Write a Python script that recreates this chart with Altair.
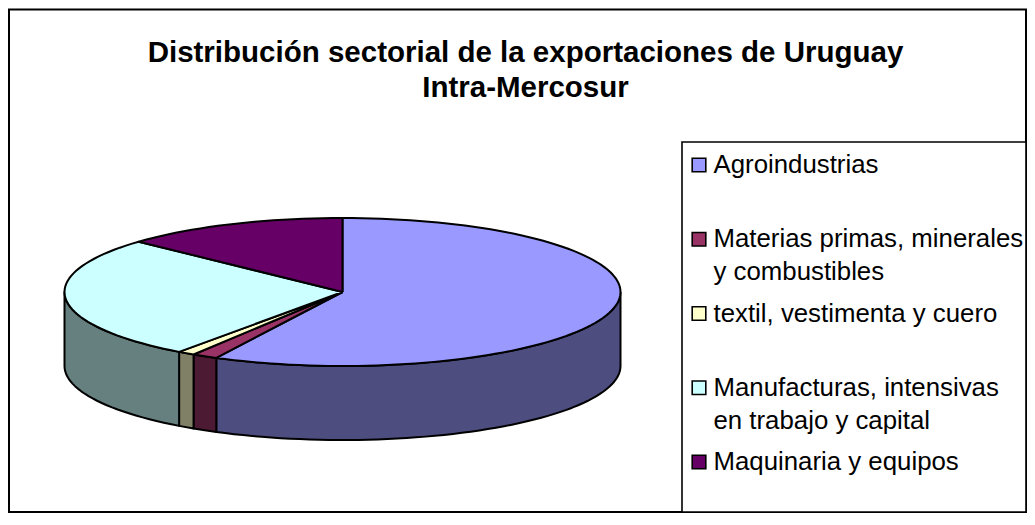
import math
import altair as alt
import pandas as pd

TITLE = ["Distribución sectorial de la exportaciones de Uruguay", "Intra-Mercosur"]
SECTORS = ["Agroindustrias", "Materias primas, minerales y combustibles",
           "textil, vestimenta y cuero", "Manufacturas, intensivas en trabajo y capital",
           "Maquinaria y equipos"]
LINE1 = ["Agroindustrias", "Materias primas, minerales", "textil, vestimenta y cuero",
         "Manufacturas, intensivas", "Maquinaria y equipos"]
LINE2 = ["", "y combustibles", "", "en trabajo y capital", ""]
SHARES = [57.5, 1.5, 1.0, 26.9, 13.1]
TOP_COLORS = ["#9999FF", "#993366", "#FFFFCC", "#CCFFFF", "#660066"]
SIDE_COLORS = ["#4D4D80", "#4D1A33", "#808066", "#668080", "#330033"]
DEPTH = 1.0  # wall height in units of the ellipse's vertical radius


def arc(a0, a1):
    n = max(2, int(abs(a1 - a0) / 2) + 1)
    return [a0 + (a1 - a0) * i / (n - 1) for i in range(n)]


top_rows, side_rows = [], []
start = 0.0
for name, share in zip(SECTORS, SHARES):
    end = start + share * 3.6
    pts = [(0.0, 0.0)] + [(math.sin(math.radians(a)), math.cos(math.radians(a))) for a in arc(start, end)] + [(0.0, 0.0)]
    for i, (x, y) in enumerate(pts):
        top_rows.append({"sector": name, "i": i, "x": x, "y": y})
    lo, hi = max(start, 90.0), min(end, 270.0)
    if lo < hi:
        angles = arc(lo, hi)
        upper = [(math.sin(math.radians(a)), math.cos(math.radians(a))) for a in angles]
        lower = [(x, y - DEPTH) for x, y in reversed(upper)]
        for i, (x, y) in enumerate(upper + lower + upper[:1]):
            side_rows.append({"sector": name, "i": i, "x": x, "y": y})
    start = end

top_df = pd.DataFrame(top_rows)
side_df = pd.DataFrame(side_rows)
legend_df = pd.DataFrame({"sector": SECTORS, "l1": LINE1, "l2": LINE2})
one = pd.DataFrame({"a": [0]})

x_pie = alt.X("x:Q", axis=None, scale=alt.Scale(domain=[-1, 1], range=[56.5, 612.5], nice=False, zero=False))
y_pie = alt.Y("y:Q", axis=None, scale=alt.Scale(domain=[-1, 1], range=[358, 210], nice=False, zero=False))


def pie_layer(df, colors):
    return alt.Chart(df).mark_line(stroke="black", strokeWidth=2, strokeJoin="round").encode(
        x=x_pie, y=y_pie, order="i:Q", detail="sector:N",
        fill=alt.Fill("sector:N", legend=None, scale=alt.Scale(domain=SECTORS, range=colors)),
    )


frame = alt.Chart(one).mark_rect(fill="white", stroke="black", strokeWidth=2).encode(
    x=alt.value(1), x2=alt.value(1018), y=alt.value(1.5), y2=alt.value(504))
legend_box = alt.Chart(one).mark_rect(fill="white", stroke="black", strokeWidth=1.6).encode(
    x=alt.value(674), x2=alt.value(1018), y=alt.value(134), y2=alt.value(504))

y_leg = alt.Y("sector:N", axis=None, sort=SECTORS,
              scale=alt.Scale(type="point", domain=SECTORS, range=[157, 454], padding=0))
swatches = alt.Chart(legend_df).mark_square(size=185, stroke="black", strokeWidth=1.6, opacity=1).encode(
    x=alt.value(691), y=y_leg,
    fill=alt.Fill("sector:N", legend=None, scale=alt.Scale(domain=SECTORS, range=TOP_COLORS)))
FONT = "Liberation Sans"
labels1 = alt.Chart(legend_df).mark_text(align="left", baseline="middle", font=FONT, fontSize=25.8, color="black").encode(
    x=alt.value(705.5), y=y_leg, text="l1:N")
labels2 = alt.Chart(legend_df).transform_filter("datum.l2 != ''").mark_text(
    align="left", baseline="middle", dy=33, font=FONT, fontSize=25.8, color="black").encode(
    x=alt.value(705.5), y=y_leg, text="l2:N")

chart = alt.layer(
    frame, legend_box,
    pie_layer(side_df, SIDE_COLORS),
    pie_layer(top_df, TOP_COLORS),
    swatches, labels1, labels2,
).resolve_scale(y="independent", fill="independent").properties(
    width=1019, height=506,
    padding=0,
    autosize=alt.AutoSizeParams(type="none"),
    background="white",
    title=alt.Title(text=TITLE, font=FONT, fontWeight="bold", fontSize=29.5, color="black",
                    anchor="middle", lineHeight=35, dx=8, offset=-95),
).configure_view(stroke=None)

chart.save("out.html", embed_options={"renderer": "svg", "actions": False})
